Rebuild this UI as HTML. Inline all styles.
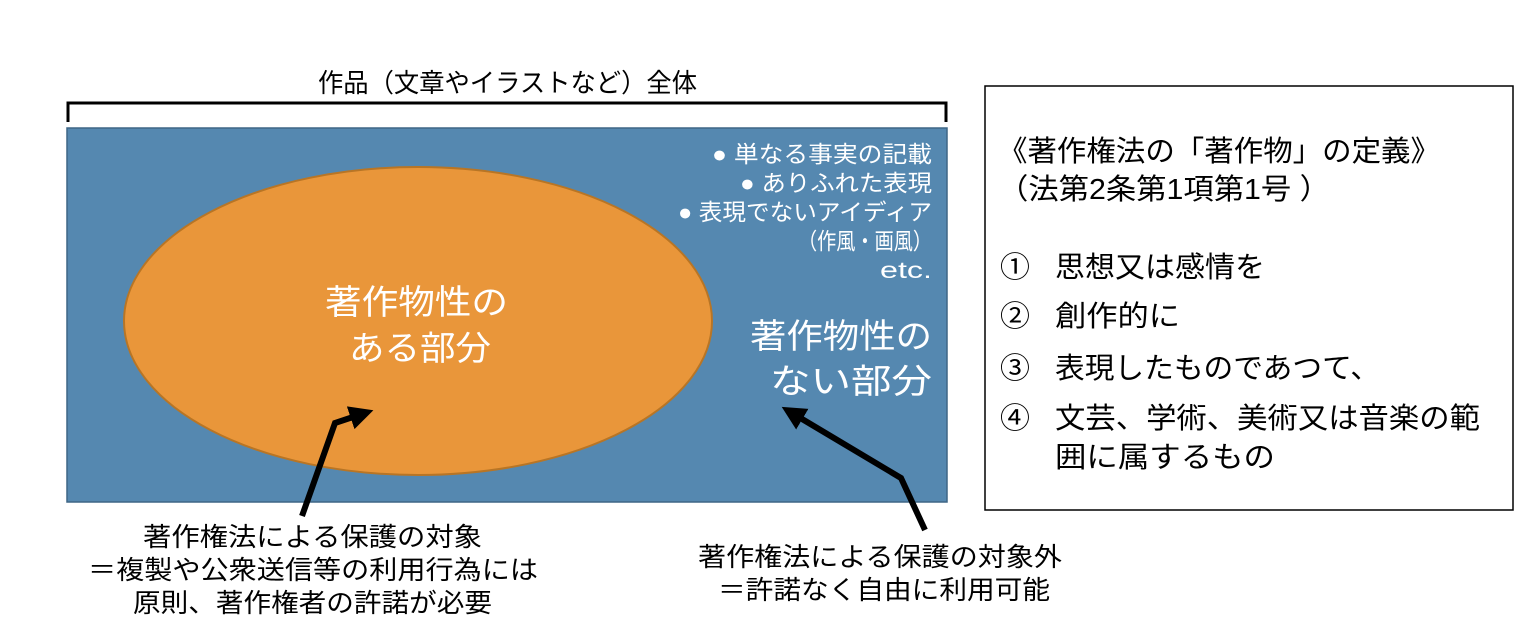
<!DOCTYPE html>
<html><head><meta charset="utf-8"><style>
html,body{margin:0;padding:0;background:#fff;width:1530px;height:628px;overflow:hidden}
svg text{font-family:"Liberation Sans","Noto Sans CJK JP",sans-serif}
</style></head><body>
<svg width="1530" height="628" viewBox="0 0 1530 628" xmlns="http://www.w3.org/2000/svg">
<defs>
<marker id="ah" markerWidth="4" markerHeight="4" refX="2" refY="2" orient="auto" markerUnits="strokeWidth">
<path d="M0,0 L4,2 L0,4 z" fill="#000"/></marker>
</defs>
<text x="318" y="92" font-size="26" textLength="379" lengthAdjust="spacingAndGlyphs" fill="#000">作品（文章やイラストなど）全体</text>
<path d="M68,122 L68,103 L946,103 L946,122" fill="none" stroke="#000" stroke-width="3"/>
<rect x="67" y="128" width="880" height="374" fill="#5588b0" stroke="#3f6685" stroke-width="1.5"/>
<ellipse cx="418" cy="321" rx="294" ry="154" fill="#e9963a" stroke="#b87525" stroke-width="2"/>
<g fill="#fff" font-size="23" lengthAdjust="spacingAndGlyphs">
<text x="712" y="162" textLength="220" lengthAdjust="spacingAndGlyphs">● 単なる事実の記載</text>
<text x="740" y="191" textLength="192" lengthAdjust="spacingAndGlyphs">● ありふれた表現</text>
<text x="678" y="220" textLength="254" lengthAdjust="spacingAndGlyphs">● 表現でないアイディア</text>
<text x="798" y="249" textLength="134" lengthAdjust="spacingAndGlyphs">（作風・画風）</text>
<text x="880" y="278" textLength="52" lengthAdjust="spacingAndGlyphs">etc.</text>
</g>
<g fill="#fff" font-size="34">
<text x="750" y="348" textLength="182" lengthAdjust="spacingAndGlyphs">著作物性の</text>
<text x="770" y="393" textLength="162" lengthAdjust="spacingAndGlyphs">ない部分</text>
<text x="325" y="314" textLength="183" lengthAdjust="spacingAndGlyphs">著作物性の</text>
<text x="349" y="360" textLength="142" lengthAdjust="spacingAndGlyphs">ある部分</text>
</g>
<polyline points="302,516 335,423 362,414" fill="none" stroke="#000" stroke-width="6" marker-end="url(#ah)"/>
<polyline points="925,530 901,478 792,413" fill="none" stroke="#000" stroke-width="6" marker-end="url(#ah)"/>
<g fill="#000" font-size="26">
<text x="143" y="546" textLength="339" lengthAdjust="spacingAndGlyphs">著作権法による保護の対象</text>
<text x="88" y="579" textLength="450" lengthAdjust="spacingAndGlyphs">＝複製や公衆送信等の利用行為には</text>
<text x="133" y="612" textLength="359" lengthAdjust="spacingAndGlyphs">原則、著作権者の許諾が必要</text>
<text x="698" y="566" textLength="364" lengthAdjust="spacingAndGlyphs">著作権法による保護の対象外</text>
<text x="718" y="599" textLength="332" lengthAdjust="spacingAndGlyphs">＝許諾なく自由に利用可能</text>
</g>
<rect x="985" y="86" width="528" height="424" fill="#fff" stroke="#000" stroke-width="1.5"/>
<g fill="#000" font-size="29">
<text x="998" y="161" textLength="442" lengthAdjust="spacingAndGlyphs">《著作権法の「著作物」の定義》</text>
<text x="998" y="199" textLength="332" lengthAdjust="spacingAndGlyphs">（法第2条第1項第1号 ）</text>
<text x="1000" y="277" textLength="30" lengthAdjust="spacingAndGlyphs">①</text><text x="1055" y="277" textLength="210" lengthAdjust="spacingAndGlyphs">思想又は感情を</text>
<text x="1000" y="326" textLength="30" lengthAdjust="spacingAndGlyphs">②</text><text x="1055" y="326" textLength="125" lengthAdjust="spacingAndGlyphs">創作的に</text>
<text x="1000" y="378" textLength="30" lengthAdjust="spacingAndGlyphs">③</text><text x="1055" y="378" textLength="325" lengthAdjust="spacingAndGlyphs">表現したものであつて、</text>
<text x="1000" y="428" textLength="30" lengthAdjust="spacingAndGlyphs">④</text><text x="1055" y="428" textLength="425" lengthAdjust="spacingAndGlyphs">文芸、学術、美術又は音楽の範</text>
<text x="1055" y="467" textLength="220" lengthAdjust="spacingAndGlyphs">囲に属するもの</text>
</g>
</svg>
</body></html>
